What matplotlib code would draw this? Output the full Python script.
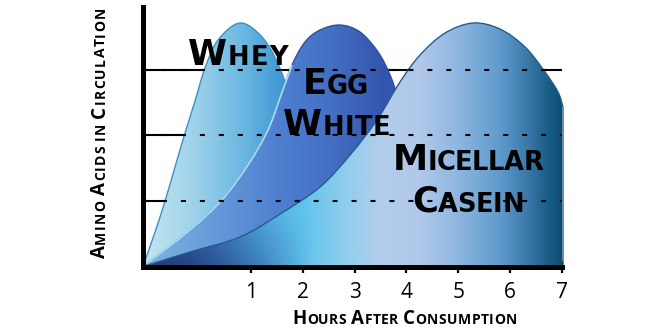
import numpy as np
import matplotlib
matplotlib.use("Agg")
import matplotlib.pyplot as plt
from matplotlib.path import Path
from matplotlib.patches import PathPatch
from matplotlib.colors import LinearSegmentedColormap

# ---------------- data (hours, relative level) ----------------
whey_x = [-1.085, -0.853, -0.660, -0.467, -0.274, -0.081, 0.112, 0.363, 0.788,
          1.213, 1.522, 1.754, 1.947, 2.043]
whey_y = [0.0, 0.526, 0.998, 1.517, 2.035, 2.523, 3.026, 3.453, 3.712,
          3.499, 3.087, 2.538, 1.623, 0.0]

egg_x = [-1.085, -0.178, 0.440, 0.942, 1.329, 1.580, 1.792, 2.043, 2.333, 2.719,
         3.105, 3.453, 3.685, 3.839, 4.071, 4.225]
egg_y = [0.0, 0.556, 1.014, 1.547, 2.081, 2.614, 3.072, 3.422, 3.605, 3.681,
         3.575, 3.270, 2.919, 2.538, 1.623, 0.0]

casein_x = [-1.085, -0.178, 0.788, 1.560, 2.333, 2.912, 3.433, 3.877, 4.264, 4.747,
            5.287, 5.809, 6.292, 6.678, 6.929, 7.025]
casein_y = [0.0, 0.221, 0.450, 0.800, 1.212, 1.700, 2.233, 2.812, 3.224, 3.559,
            3.712, 3.620, 3.346, 2.965, 2.660, 2.431]

grid_levels = [1, 2, 3]
hour_ticks = [1, 2, 3, 4, 5, 6, 7]
hour_labels = ["1", "2", "3", "4", "5", "6", "7"]

W, H = 660, 330
fig = plt.figure(figsize=(W / 100, H / 100), dpi=100)
ax = fig.add_axes([142.5 / W, 63.5 / H, (561.7 - 142.5) / W, (323 - 63.5) / H])
X0, X1, Y1 = -1.095, 7.0, 3.956
ax.set_xlim(X0, X1)
ax.set_ylim(0, Y1)


def cr_path(xs, ys, close=None):
    pts = np.column_stack([xs, ys]).astype(float)
    n = len(pts)
    verts = [pts[0]]
    codes = [Path.MOVETO]
    for i in range(n - 1):
        p0 = pts[i - 1] if i > 0 else pts[i]
        p1, p2 = pts[i], pts[i + 1]
        p3 = pts[i + 2] if i + 2 < n else pts[i + 1]
        c1 = p1 + (p2 - p0) / 6.0
        c2 = p2 - (p3 - p1) / 6.0
        verts += [c1, c2, p2]
        codes += [Path.CURVE4] * 3
    if close is not None:
        for c in close:
            verts.append(c)
            codes.append(Path.LINETO)
        verts.append(pts[0])
        codes.append(Path.CLOSEPOLY)
    return Path(verts, codes)


def grad_fill(path, stops, z, edge, lw, shade=None):
    cmap = LinearSegmentedColormap.from_list(
        "g", [((s - X0) / (X1 + 0.1 - X0), c) for s, c in stops])
    grad = np.linspace(0, 1, 512).reshape(1, -1)
    patch = PathPatch(path, facecolor="none", edgecolor="none", zorder=z)
    ax.add_patch(patch)
    im = ax.imshow(grad, extent=[X0, X1 + 0.1, 0, Y1], aspect="auto", cmap=cmap,
                   origin="lower", zorder=z, interpolation="bilinear")
    im.set_clip_path(patch)
    if shade is not None:
        im2 = ax.imshow(shade, extent=[X0, X1 + 0.1, 0, Y1], aspect="auto",
                        origin="lower", zorder=z + 0.05, interpolation="bilinear")
        im2.set_clip_path(patch)
    outline = PathPatch(path, facecolor="none", edgecolor=edge, lw=lw, zorder=z + 0.1,
                        clip_on=False)
    ax.add_patch(outline)


# gridlines: solid behind curves, dashed on top
ax.hlines(grid_levels, X0, X1, colors="black", lw=1.5, zorder=1)

whey_path = cr_path(whey_x, whey_y, close=[])
grad_fill(whey_path,
          [(X0, "#c4e6ef"), (-0.2, "#a2d4ea"), (0.8, "#6cb8e2"), (1.6, "#3d98d3"),
           (X1 + 0.1, "#3d98d3")], 2, "#3f8fc6", 1.0)

egg_path = cr_path(egg_x, egg_y, close=[])
grad_fill(egg_path,
          [(X0, "#7db6e2"), (0.5, "#6096d8"), (1.5, "#4f80d0"), (2.5, "#4470c4"),
           (3.5, "#3556ad"), (X1 + 0.1, "#2e4a9c")], 3, "#2d4f9c", 1.0)
light = cr_path(egg_x[:7], egg_y[:7])
ax.add_patch(PathPatch(light, facecolor="none", edgecolor="#a8dcf0", lw=1.3, zorder=3.2))

# dark shading of the casein area near the lower-left corner
gx = np.linspace(X0, X1 + 0.1, 256)
gy = np.linspace(0, Y1, 128)
GX, GY = np.meshgrid(gx, gy)
alpha = np.clip(1 - GY / 0.75, 0, 1) * np.clip((2.2 - GX) / 2.6, 0, 1) * 0.75
shade = np.zeros(GX.shape + (4,))
shade[..., 0], shade[..., 1], shade[..., 2] = 0.12, 0.22, 0.47
shade[..., 3] = alpha

cas_path = cr_path(casein_x, casein_y, close=[(casein_x[-1], 0.0)])
grad_fill(cas_path,
          [(X0, "#2a4a8a"), (0.015, "#3a6db0"), (0.98, "#4a9ad4"), (1.95, "#5ec2ec"),
           (2.72, "#8ccdec"), (3.49, "#b3cdec"), (4.26, "#b0c8ea"), (5.03, "#8bb5e0"),
           (5.81, "#5f9acb"), (6.39, "#3574a4"), (6.77, "#175a82"), (7.02, "#0b4a6e"),
           (X1 + 0.1, "#0b4a6e")], 4, "#245d8a", 1.0, shade=shade)

ax.hlines(grid_levels, X0, X1, colors="black", lw=1.5, linestyles=(0, (2.4, 6.7)), zorder=10)

# axes styling
for s in ["top", "right"]:
    ax.spines[s].set_visible(False)
for s in ["left", "bottom"]:
    ax.spines[s].set_linewidth(3.6)
    ax.spines[s].set_capstyle("projecting")
    ax.spines[s].set_zorder(12)
ax.set_yticks([])
ax.set_xticks(hour_ticks)
ax.set_xticklabels(hour_labels, fontsize=15, family="Open Sans")
ax.set_xticks(np.arange(1.5, 7, 1.0), minor=True)
ax.tick_params(axis="x", which="major", direction="inout", length=8, width=1.6, pad=7)
ax.tick_params(axis="x", which="minor", direction="inout", length=5, width=1.6)

fig.canvas.draw()
renderer = fig.canvas.get_renderer()


def sc_text(x, y, span, parts, rotation=0, weight="bold", family="Lato"):
    """Small-caps style text: parts = list of (string, size); ' ' = word gap.
    Baseline starts at (x, y) in pixels from the top-left; letters are spread
    so that the text covers `span` pixels (to the right, or upward if rotated)."""
    items = []
    for txt, size in parts:
        if txt == " ":
            items.append((None, 0.28 * size * 100 / 72))
            continue
        for ch in txt:
            t = fig.text(0.5, 0.5, ch, fontsize=size, fontweight=weight, family=family,
                         rotation=rotation, rotation_mode="anchor", ha="left",
                         va="baseline", color="black", zorder=20)
            ext = t.get_window_extent(renderer)
            items.append((t, ext.width if rotation == 0 else ext.height))
    natural = sum(w for _, w in items)
    n_gaps = sum(1 for t, _ in items if t is not None) - 1
    extra = (span - natural) / max(n_gaps, 1)
    pos = 0.0
    first = True
    for t, w in items:
        if t is None:
            pos += w
            continue
        if not first:
            pos += extra
        first = False
        if rotation == 0:
            t.set_position(((x + pos) / W, (H - y) / H))
        else:
            t.set_position((x / W, (H - y + pos) / H))
        pos += w


BIG, SMALL = 25.5, 18.5
LBL = dict(weight="bold", family="DejaVu Sans")
sc_text(188, 65, 100, [("W", BIG), ("HEY", SMALL)], **LBL)
sc_text(303, 94, 65, [("E", BIG), ("GG", SMALL)], **LBL)
sc_text(283, 135, 107, [("W", BIG), ("HITE", SMALL)], **LBL)
sc_text(393, 170, 150, [("M", BIG), ("ICELLAR", SMALL)], **LBL)
sc_text(412, 212, 112, [("C", BIG), ("ASEIN", SMALL)], **LBL)

sc_text(105, 258, 251, [("A", 13.5), ("MINO", 10), (" ", 10), ("A", 13.5), ("CIDS", 10), (" ", 10),
                        ("IN", 10), (" ", 10), ("C", 13.5), ("IRCULATION", 10)], rotation=90,
        weight="bold", family="Open Sans")
sc_text(292, 324, 225, [("H", 13.5), ("OURS", 10), (" ", 10), ("A", 13.5), ("FTER", 10), (" ", 10),
                        ("C", 13.5), ("ONSUMPTION", 10)], weight="bold", family="Open Sans")

fig.savefig("out.png", dpi=100)
